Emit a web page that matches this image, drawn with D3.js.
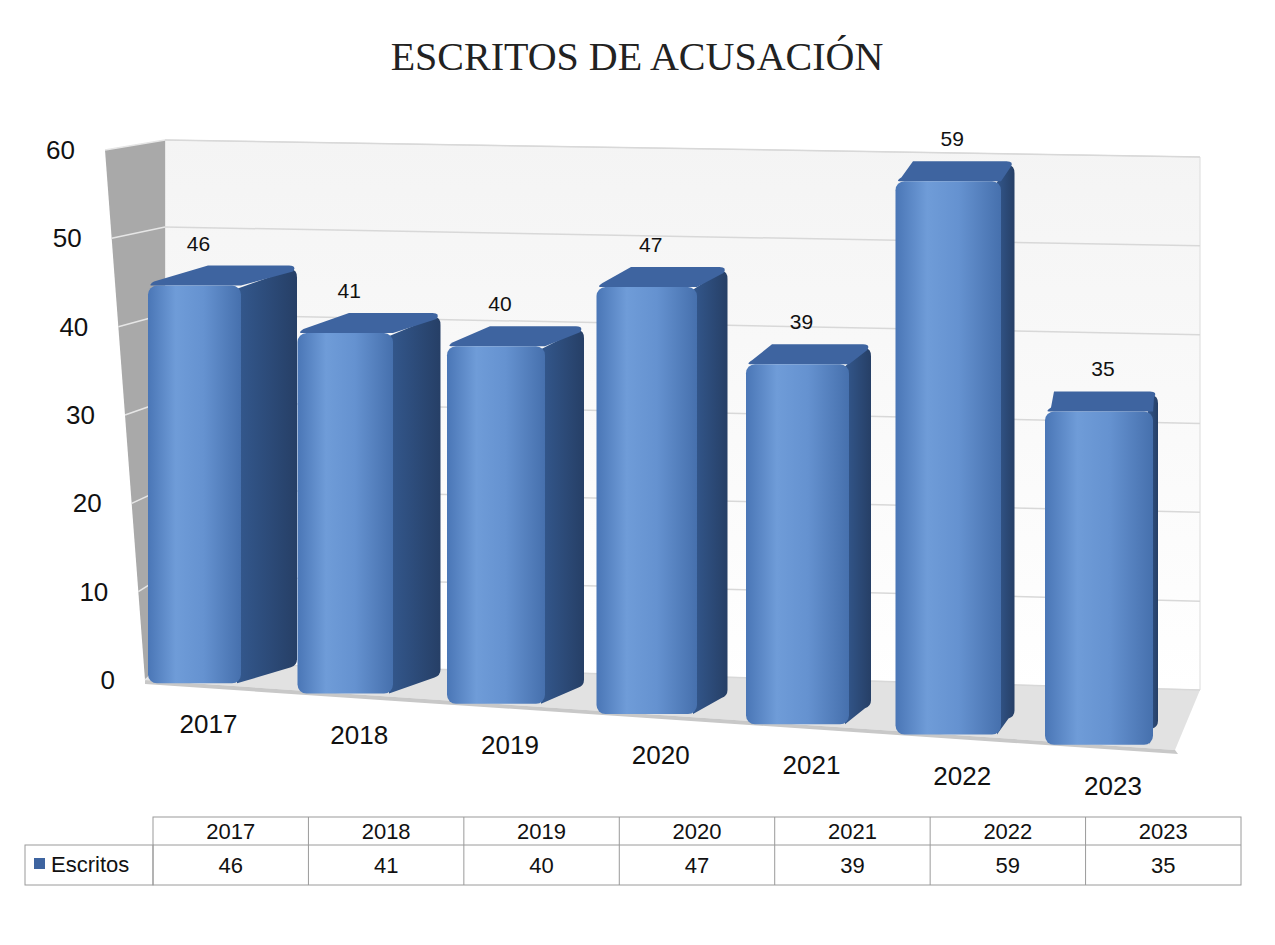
<!DOCTYPE html>
<html><head><meta charset="utf-8">
<script src="https://cdn.jsdelivr.net/npm/d3@7"></script>
<style>body{margin:0;background:#fff}</style></head>
<body><svg id="c" width="1275" height="945"></svg>
<script>
const categories = ["2017","2018","2019","2020","2021","2022","2023"];
const values = [46,41,40,47,39,59,35];
const yTicks = [0,10,20,30,40,50,60];
const seriesName = "Escritos";
const title = "ESCRITOS DE ACUSACIÓN";

const svg = d3.select("#c");
const defs = svg.append("defs");
const fg = defs.append("linearGradient").attr("id","front");
[[0,"#4a76b6"],[0.3,"#6f9cd8"],[0.6,"#6592d0"],[1,"#4670ad"]].forEach(s=>fg.append("stop").attr("offset",s[0]).attr("stop-color",s[1]));
const sg = defs.append("linearGradient").attr("id","side");
[[0,"#34598f"],[1,"#263f66"]].forEach(s=>sg.append("stop").attr("offset",s[0]).attr("stop-color",s[1]));
const wg = defs.append("linearGradient").attr("id","wall").attr("x1",0).attr("y1",0).attr("x2",0).attr("y2",1);
[[0,"#f4f4f4"],[1,"#ffffff"]].forEach(s=>wg.append("stop").attr("offset",s[0]).attr("stop-color",s[1]));

svg.append("text").attr("x",637).attr("y",70).attr("text-anchor","middle")
  .attr("font-family","Liberation Serif, Times New Roman, serif").attr("font-size",40).attr("fill","#222").text(title);

const bottomY = x => 680 + (x-145)*70/1030;
const kUnit = x => 8.6 + (x-145)/1030*1.0;
const y0 = d3.scaleLinear().domain([0,60]).range([662,140]);
const y1 = d3.scaleLinear().domain([0,60]).range([690,157]);
const fl = d3.scaleLinear().domain([0,60]).range([[145,680],[105,150]]).interpolate(d3.interpolateArray);

svg.append("polygon").attr("points",[[165,140],[1200,157],[1200,690],[165,662]].join(" "))
  .attr("fill","url(#wall)").attr("stroke","#dcdcdc");
svg.append("polygon").attr("points",[[105,150],[165,140],[165,662],[145,680]].join(" ")).attr("fill","#a9a9a9");
svg.append("polygon").attr("points",[[145,680],[165,662],[1200,690],[1175,750]].join(" ")).attr("fill","#e2e2e2");
svg.append("polygon").attr("points",[[145,680],[1175,750],[1178,754],[145,684]].join(" ")).attr("fill","#c8c8c8");

yTicks.forEach(t=>{
  svg.append("line").attr("x1",165).attr("y1",y0(t)).attr("x2",1200).attr("y2",y1(t)).attr("stroke","#d8d8d8").attr("stroke-width",1.5);
  const p = fl(t);
  svg.append("line").attr("x1",p[0]).attr("y1",p[1]).attr("x2",165).attr("y2",y0(t)).attr("stroke","#e6e6e6").attr("stroke-width",1.5);
  svg.append("text").attr("x",p[0]-30).attr("y",p[1]+9).attr("text-anchor","end")
    .attr("font-family","Liberation Sans, Arial, sans-serif").attr("font-size",26).attr("fill","#111").text(t);
});

const band = d3.scaleBand().domain(categories).range([148,148+7*149.5]);
const g = svg.append("g");
categories.forEach((c,i)=>{
  const v = values[i];
  const x = band(c), w = 93 + i*2.5;
  const cx = x + w/2;
  const yb = bottomY(cx), h = v*kUnit(cx), yt = yb - h;
  const sdx = 56 - i*8.5, sdy = -20;
  g.append("path").attr("d",`M${x+w-6},${yt+4} L${x+w+sdx-6},${yt+sdy+4} Q${x+w+sdx},${yt+sdy+4} ${x+w+sdx},${yt+sdy+12} L${x+w+sdx},${yb+sdy-4} Q${x+w+sdx},${yb+sdy+2} ${x+w+sdx-6},${yb+sdy+4} L${x+w-4},${yb} Z`)
    .attr("fill","url(#side)");
  g.append("path").attr("d",`M${x+4},${yt} Q${x},${yt} ${x+6},${yt-4} L${x+sdx+4},${yt+sdy} L${x+w+sdx-8},${yt+sdy} Q${x+w+sdx},${yt+sdy} ${x+w+sdx-4},${yt+sdy+6} L${x+w},${yt} Z`)
    .attr("fill","#3e64a0");
  g.append("rect").attr("x",x).attr("y",yt).attr("width",w).attr("height",h).attr("rx",9).attr("fill","url(#front)");
  svg.append("text").attr("x",cx+4).attr("y",yt+sdy-15).attr("text-anchor","middle")
    .attr("font-family","Liberation Sans, Arial, sans-serif").attr("font-size",21).attr("fill","#111").text(v);
  svg.append("text").attr("x",cx+14).attr("y",yb+50).attr("text-anchor","middle")
    .attr("font-family","Liberation Sans, Arial, sans-serif").attr("font-size",26).attr("fill","#111").text(c);
});

const tx0 = 153, tx1 = 1241, cw = (tx1-tx0)/categories.length;
const tcol = "#9a9a9a";
const tg = svg.append("g").attr("font-family","Liberation Sans, Arial, sans-serif").attr("font-size",22).attr("fill","#111");
tg.append("rect").attr("x",tx0).attr("y",817).attr("width",tx1-tx0).attr("height",68).attr("fill","none").attr("stroke",tcol);
tg.append("rect").attr("x",25).attr("y",845).attr("width",tx0-25).attr("height",40).attr("fill","none").attr("stroke",tcol);
tg.append("line").attr("x1",tx0).attr("x2",tx1).attr("y1",845).attr("y2",845).attr("stroke",tcol);
categories.forEach((c,i)=>{
  if(i>0) tg.append("line").attr("x1",tx0+i*cw).attr("x2",tx0+i*cw).attr("y1",817).attr("y2",885).attr("stroke",tcol);
  tg.append("text").attr("x",tx0+(i+0.5)*cw).attr("y",839).attr("text-anchor","middle").text(c);
  tg.append("text").attr("x",tx0+(i+0.5)*cw).attr("y",873).attr("text-anchor","middle").text(values[i]);
});
tg.append("rect").attr("x",34).attr("y",858).attr("width",11).attr("height",11).attr("fill","#3e64a0");
tg.append("text").attr("x",51).attr("y",872).text(seriesName);
</script></body></html>
